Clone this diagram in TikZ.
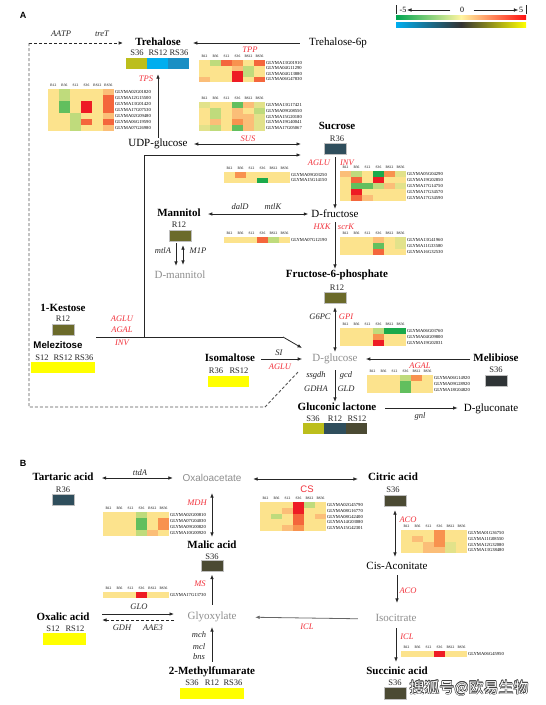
\documentclass[tikz,border=0pt]{standalone}
\usepackage{fontspec}
\setmainfont{Liberation Serif}
\newfontfamily\arialf{Liberation Sans}
\newfontfamily\cjkf{Noto Sans CJK SC}
\usetikzlibrary{arrows.meta}
\definecolor{hY}{HTML}{FCE38D}
\definecolor{hYG}{HTML}{E2E28A}
\definecolor{hLO}{HTML}{FBBE78}
\definecolor{hO}{HTML}{F8924F}
\definecolor{hOR}{HTML}{F4663C}
\definecolor{hR}{HTML}{EE1C24}
\definecolor{hLG}{HTML}{BFDB7C}
\definecolor{hG}{HTML}{62BF5E}
\definecolor{hDG}{HTML}{1BAA4B}
\definecolor{cOY}{HTML}{BCBE1C}
\definecolor{cLB}{HTML}{00AEEF}
\definecolor{cMB}{HTML}{1A8FC4}
\definecolor{cDT}{HTML}{2F4E5C}
\definecolor{cOL}{HTML}{6B6A2A}
\definecolor{cDO}{HTML}{4B4A33}
\definecolor{cYe}{HTML}{FFFF00}
\definecolor{cDK}{HTML}{2F3436}
\definecolor{enzred}{HTML}{F2303A}
\definecolor{gtx}{HTML}{8E8E8E}
\definecolor{lc}{HTML}{262626}
\definecolor{dc}{HTML}{555555}
\definecolor{lgG}{HTML}{00A651}
\definecolor{lgY}{HTML}{FFF5A0}
\definecolor{lgR}{HTML}{FF1010}

\newcommand{\hmap}[5]{%
  \foreach \lab [count=\k] in {R12,R36,S12,S36,RS12,RS36}
    \node[hd] (#1h\k) at ({#2+(\k-0.5)*11},{#3-3.3}) {\lab};
  \foreach \qa/\qb/\qc/\qd/\qe/\qf/\gn [count=\r] in {#5} {
    \foreach \qq [count=\k] in {\qa,\qb,\qc,\qd,\qe,\qf}
      \fill[fill=\qq] ({#2+(\k-1)*11},{#3+(\r-1)*#4}) rectangle ++(11.15,{#4+0.15});
    \node[gene] (#1g\r) at ({#2+66.8},{#3+(\r-0.5)*#4}) {\gn};
  }%
}

\begin{document}
\begin{tikzpicture}[x=1pt,y=-1pt,
  txt/.style={inner sep=1pt, font=\fontsize{11}{12}\selectfont, text height=7.5pt, text depth=2.2pt},
  met/.style={txt, font=\bfseries\fontsize{11}{12}\selectfont},
  gmet/.style={txt, text=gtx},
  gsans/.style={txt, text=gtx, font=\arialf\fontsize{10}{12}\selectfont},
  smp/.style={inner sep=0.5pt, font=\fontsize{8.5}{9}\selectfont, text height=6pt, text depth=0pt, text=black!85},
  enz/.style={inner sep=0.5pt, font=\itshape\fontsize{8.5}{9}\selectfont, text=black!85},
  renz/.style={enz, text=enzred},
  hd/.style={inner sep=0, font=\fontsize{3.6}{4}\selectfont},
  gene/.style={inner sep=0, anchor=west, font=\fontsize{4.6}{5}\selectfont},
  ln/.style={draw=lc, line width=0.8pt},
  arr/.style={ln, -{Latex[length=4.5pt,width=3.6pt]}},
  darr/.style={ln, {Latex[length=4.5pt,width=3.6pt]}-{Latex[length=4.5pt,width=3.6pt]}},
  dsh/.style={draw=dc, line width=0.9pt, dash pattern=on 3pt off 2pt},
  box/.style={inner sep=0, minimum width=22pt, minimum height=11pt, draw=white!75!black, line width=0.3pt},
  lbl/.style={inner sep=0, font=\arialf\bfseries\fontsize{9}{10}\selectfont}
]
\useasboundingbox[fill=white] (0,0) rectangle (546,705);

% ---------- panel labels ----------
\node[lbl] (labA) at (23,15) {A};
\node[lbl] (labB) at (23,463) {B};

% ---------- legend ----------
\draw[lc, line width=0.6pt] (396,5) -- (396,14) (526,5) -- (526,14);
\node[inner sep=0.5pt, font=\fontsize{8}{9}\selectfont] (lgm) at (403,10) {-5};
\node[inner sep=0.5pt, font=\fontsize{8}{9}\selectfont] (lg0) at (462,10) {0};
\node[inner sep=0.5pt, font=\fontsize{8}{9}\selectfont] (lgp) at (521,10) {5};
\draw[arr, line width=0.6pt, shorten <=9pt] (lg0.west) -- (lgm.east);
\draw[arr, line width=0.6pt, shorten <=9pt] (lg0.east) -- (lgp.west);
\shade[left color=lgG, right color=lgR, middle color=lgY] (396,15.5) rectangle (526,19.5);
\shade[left color=cLB, right color=cYe, middle color=black!80] (396,22) rectangle (526,27);

% ---------- Trehalose ----------
\node[met] (treh) at (158,43) {Trehalose};
\node[smp] (trehs1) at (137,52) {S36};
\node[smp] (trehs2) at (158,52) {RS12};
\node[smp] (trehs3) at (179,52) {RS36};
\fill[cOY] (126,58) rectangle (147,69);
\fill[cLB] (147,58) rectangle (168,69);
\fill[cMB] (168,58) rectangle (189,69);
\node[box, minimum width=63pt, draw=none] (trehB) at (157.5,63.5) {};
\node[txt] (t6p) at (338,43) {Trehalose-6p};
\draw[arr, shorten <=8pt, shorten >=11pt] (t6p.west) -- (treh.east);

\coordinate (dA) at (29,43);
\coordinate (dB) at (265,407);
\coordinate (dC) at (299,371);
\draw[dsh, draw=lc, -{Latex[length=4.5pt,width=3.6pt]}, shorten >=11pt] (dA) -- (treh.west);
\draw[dsh] (dA) -- (dA |- dB) -- (dB) -- (dC);
\node[enz] (aatp) at (61,34) {AATP};
\node[enz] (tret) at (102,34) {treT};

\node[renz] (tpp) at (250,50) {TPP};
\hmap{tpp}{199}{60}{5.5}{hY/hLG/hOR/hO/hY/hOR/GLYMA13G01910,
 hY/hY/hY/hLO/hLG/hY/GLYMA04G11290,
 hY/hY/hY/hR/hLG/hY/GLYMA04G13880,
 hLO/hY/hY/hR/hY/hOR/GLYMA06G47830}
\hmap{sus}{199}{102}{5.8}{hYG/hY/hY/hG/hLO/hYG/GLYMA13G17421,
 hY/hLG/hY/hLO/hY/hLG/GLYMA09G08550,
 hY/hLG/hY/hLO/hLO/hYG/GLYMA15G20180,
 hY/hLO/hY/hO/hLO/hYG/GLYMA19G40041,
 hYG/hLG/hY/hG/hLO/hYG/GLYMA17G05067}
\node[renz] (sus) at (248,139) {SUS};

\node[renz] (tps) at (146,79) {TPS};
\hmap{tps}{48}{89}{6}{hY/hLG/hY/hY/hY/hLO/GLYMA02G01820,
 hY/hLG/hY/hY/hY/hOR/GLYMA12G15500,
 hY/hG/hY/hR/hY/hOR/GLYMA13G01420,
 hY/hG/hY/hR/hY/hOR/GLYMA17G07530,
 hY/hY/hLG/hY/hY/hLO/GLYMA02G09480,
 hY/hY/hLG/hOR/hY/hOR/GLYMA06G19590,
 hY/hY/hLG/hY/hY/hLO/GLYMA07G26980}

% ---------- UDP-glucose / Sucrose ----------
\node[txt] (udp) at (158,144) {UDP-glucose};
\draw[arr, shorten >=5pt] (udp.north) -- (udp.north |- trehB.south);
\node[met] (sucr) at (337,127) {Sucrose};
\node[smp] (sucrs) at (337,138) {R36};
\node[box, fill=cDT] (sucrB) at (335,148.5) {};
\coordinate (sucIn1) at (301,144);
\coordinate (sucIn2) at (301,155);
\draw[darr, shorten <=5pt] (udp.east) -- (sucIn1);

\coordinate (hub) at (96,337);
\coordinate (hubUp) at (144,337);
\coordinate (hubR) at (283,337);
\coordinate (glcIn) at (302,348);
\draw[ln] (hub) -- (hubR);
\draw[arr] (hubR) -- (glcIn);
\draw[arr] (hubUp) -- (hubUp |- sucIn2) -- (sucIn2);

\node[renz] (aglu1) at (319,163) {AGLU};
\node[renz] (inv1) at (347,163) {INV};
\hmap{aglu}{224}{172}{5.5}{hY/hO/hY/hY/hY/hY/GLYMA09G03250,
 hY/hY/hY/hDG/hY/hY/GLYMA15G14150}
\hmap{inv}{340}{171}{6}{hLO/hLG/hY/hDG/hO/hYG/GLYMA05G04290,
 hY/hOR/hY/hR/hY/hY/GLYMA19G02850,
 hY/hG/hG/hLG/hLO/hYG/GLYMA17G14750,
 hY/hR/hY/hY/hY/hY/GLYMA17G34570,
 hY/hOR/hLO/hY/hY/hY/GLYMA17G34590}

% ---------- D-fructose / Mannitol ----------
\node[txt] (fru) at (335,215) {D-fructose};
\draw[arr, shorten <=3pt] (sucrB.south) -- (fru.north);
\node[met] (man) at (179,214) {Mannitol};
\node[smp] (mans) at (179,224) {R12};
\node[box, fill=cOL] (manB) at (180,235.5) {};
\draw[darr, shorten <=6pt, shorten >=2pt] (man.east) -- (man.east -| fru.west);
\node[enz] (dald) at (240,207) {dalD};
\node[enz] (mtlk) at (273,207) {mtlK};
\node[gmet] (dman) at (180,276) {D-mannitol};
\draw[arr, shorten <=2pt, shorten >=4pt] ([xshift=-4pt]manB.south) -- ([xshift=-4pt]manB.south |- dman.north);
\draw[darr, shorten <=4pt, shorten >=5pt] ([xshift=3pt]manB.south) -- ([xshift=3pt]manB.south |- dman.north);
\node[enz] (mtla) at (163,251) {mtlA};
\node[enz] (m1p) at (198,251) {M1P};

\node[renz] (hxk) at (322,227) {HXK};
\node[renz] (scrk) at (346,227) {scrK};
\hmap{hxk}{224}{237}{6}{hY/hY/hY/hOR/hLG/hY/GLYMA07G12190}
\hmap{scrk}{340}{237}{5.8}{hY/hY/hY/hLO/hY/hYG/GLYMA13G41960,
 hY/hY/hY/hG/hY/hYG/GLYMA11G33580,
 hY/hY/hY/hOR/hY/hY/GLYMA16G32530}

% ---------- Fructose-6-phosphate ----------
\node[met] (f6p) at (337,275) {Fructose-6-phosphate};
\node[smp] (f6ps) at (337,287) {R12};
\node[box, fill=cOL] (f6pB) at (335,297.5) {};
\draw[arr, shorten <=1pt] (fru.south) -- (fru.south |- f6p.north);
\node[enz] (g6pc) at (320,317) {G6PC};
\node[renz] (gpi) at (346,317) {GPI};
\hmap{gpi}{340}{328}{5.8}{hY/hY/hY/hLG/hDG/hDG/GLYMA06G03760,
 hY/hY/hY/hO/hY/hY/GLYMA04G09800,
 hY/hY/hY/hR/hY/hY/GLYMA19G02031}

% ---------- D-glucose ----------
\node[gmet] (glc) at (335,359) {D-glucose};
\draw[darr, shorten <=4pt, shorten >=1pt] (f6pB.south) -- (glc.north);
\node[met] (mel) at (496,359) {Melibiose};
\node[smp] (mels) at (496,369) {S36};
\node[box, fill=cDK] (melB) at (496,381) {};
\draw[arr, shorten <=2pt, shorten >=7pt] (mel.west) -- (glc.east);
\node[renz] (agal) at (420,366) {AGAL};
\hmap{agal}{367}{375}{6}{hY/hY/hY/hLG/hO/hY/GLYMA06G14920,
 hY/hY/hY/hG/hY/hY/GLYMA09G28920,
 hY/hY/hY/hG/hY/hY/GLYMA18G04820}

\node[met] (isom) at (230,359) {Isomaltose};
\node[smp] (isoms1) at (216,370) {R36};
\node[smp] (isoms2) at (239,370) {RS12};
\node[box, fill=cYe, minimum width=41pt, draw=none] (isomB) at (228.5,381.5) {};
\draw[arr, shorten <=5pt, shorten >=9pt] (isom.east) -- (glc.west);
\node[enz] (si) at (279,353) {SI};
\node[renz] (aglu3) at (280,367) {AGLU};

% ---------- 1-Kestose / Melezitose ----------
\node[met] (kes) at (63,309) {1-Kestose};
\node[smp] (kess) at (63,318) {R12};
\node[box, fill=cOL] (kesB) at (63.5,329.5) {};
\node[met, font=\arialf\bfseries\fontsize{9.7}{11}\selectfont] (mlz) at (58,346) {Melezitose};
\node[smp] (mlzs1) at (42,357) {S12};
\node[smp] (mlzs2) at (63,357) {RS12};
\node[smp] (mlzs3) at (84,357) {RS36};
\node[box, fill=cYe, minimum width=64pt, draw=none] (mlzB) at (63,367.5) {};
\node[renz] (aglu2) at (122,319) {AGLU};
\node[renz] (agal2) at (122,330) {AGAL};
\node[renz] (inv2) at (122,343) {INV};

% ---------- Gluconic lactone ----------
\node[met] (glac) at (337,408) {Gluconic lactone};
\node[smp] (glacs1) at (313,418) {S36};
\node[smp] (glacs2) at (335,418) {R12};
\node[smp] (glacs3) at (357,418) {RS12};
\fill[cOY] (303,423) rectangle (324,434);
\fill[cDT] (324,423) rectangle (346,434);
\fill[cDO] (346,423) rectangle (367,434);
\node[box, minimum width=64pt, draw=none] (glacB) at (335,428.5) {};
\draw[arr, shorten <=5pt] (glc.south) -- (glc.south |- glac.north);
\node[enz] (ssgdh) at (316,375) {ssgdh};
\node[enz] (gcd) at (346,375) {gcd};
\node[enz] (gdha) at (316,389) {GDHA};
\node[enz] (gld) at (346,389) {GLD};
\node[txt] (dgl) at (491,409) {D-gluconate};
\draw[arr, shorten <=8pt, shorten >=5pt] (glac.east) -- (glac.east -| dgl.west);
\node[enz] (gnl) at (420,416) {gnl};

% ================= Panel B =================
\node[met] (tart) at (63,478) {Tartaric acid};
\node[smp] (tarts) at (63,489) {R36};
\node[box, fill=cDT] (tartB) at (63.5,500) {};
\node[gsans] (oxa) at (212,479) {Oxaloacetate};
\draw[darr, shorten <=7pt, shorten >=8.5pt] (tart.east) -- (tart.east -| oxa.west);
\node[enz] (ttda) at (140,473) {ttdA};
\node[met] (cit) at (393,478) {Citric acid};
\node[smp] (cits) at (393,489) {S36};
\node[box, fill=cDO] (citB) at (395,500.5) {};
\draw[darr, shorten <=10.5pt, shorten >=9pt] (oxa.east) -- (oxa.east -| cit.west);
\node[inner sep=0.5pt, font=\arialf\fontsize{9.5}{10}\selectfont, text=enzred] (cs) at (307,489) {CS};
\hmap{cs}{260}{502}{5.8}{hY/hY/hY/hR/hLG/hY/GLYMA02G45790,
 hY/hY/hLO/hR/hY/hY/GLYMA08G16770,
 hY/hLG/hY/hOR/hY/hLO/GLYMA08G42400,
 hY/hY/hY/hOR/hY/hY/GLYMA14G03080,
 hY/hY/hLO/hO/hY/hY/GLYMA15G42301}

\node[met] (mal) at (212,546) {Malic acid};
\node[smp] (mals) at (212,556) {S36};
\node[box, fill=cDO] (malB) at (212.5,566) {};
\draw[darr, shorten <=8pt, shorten >=3pt] (oxa.south) -- (oxa.south |- mal.north);
\node[renz] (mdh) at (197,503) {MDH};
\hmap{mdh}{103}{512}{6}{hY/hY/hY/hLG/hY/hY/GLYMA02G00810,
 hY/hY/hY/hG/hY/hO/GLYMA07G04030,
 hY/hY/hY/hG/hY/hO/GLYMA09G00820,
 hY/hY/hY/hLG/hLO/hY/GLYMA10G00920}

\node[gmet] (glyo) at (212,617) {Glyoxylate};
\draw[arr, shorten <=6pt, shorten >=3pt] (glyo.north) -- (glyo.north |- malB.south);
\node[renz] (ms) at (200,584) {MS};
\hmap{ms}{103}{592}{5.5}{hY/hY/hY/hR/hY/hY/GLYMA17G13730}

\node[met] (oxal) at (63,618) {Oxalic acid};
\node[smp] (oxals1) at (53,628) {S12};
\node[smp] (oxals2) at (75,628) {RS12};
\node[box, fill=cYe, minimum width=43pt, minimum height=12pt, draw=none] (oxalB) at (64.5,639) {};
\coordinate (gloA) at (102,614);
\coordinate (gloB) at (174,614);
\coordinate (gdhA) at (174,620);
\coordinate (gdhB) at (102,620);
\draw[arr] (gloA) -- (gloB);
\draw[dsh, draw=lc, -{Latex[length=4.5pt,width=3.6pt]}] (gdhA) -- (gdhB);
\node[enz] (glo) at (139,607) {GLO};
\node[enz] (gdh) at (122,628) {GDH};
\node[enz] (aae3) at (153,628) {AAE3};

\node[met] (mef) at (212,672) {2-Methylfumarate};
\node[smp] (mefs1) at (192,682) {S36};
\node[smp] (mefs2) at (212,682) {R12};
\node[smp] (mefs3) at (233,682) {RS36};
\node[box, fill=cYe, minimum width=64pt, draw=none] (mefB) at (212,693.5) {};
\draw[arr, shorten <=4pt, shorten >=4pt] (mef.north) -- (mef.north |- glyo.south);
\node[enz] (mch) at (199,635) {mch};
\node[enz] (mcl) at (199,647) {mcl};
\node[enz] (bns) at (199,657) {bns};

\node[txt] (cis) at (397,567) {Cis-Aconitate};
\draw[darr, shorten <=4pt, shorten >=4pt] (citB.south) -- (citB.south |- cis.north);
\node[renz] (aco1) at (408,520) {ACO};
\hmap{aco}{401}{530}{5.8}{hY/hY/hY/hO/hY/hY/GLYMA01G36750,
 hY/hLO/hY/hO/hY/hY/GLYMA11G08550,
 hY/hY/hLO/hO/hYG/hY/GLYMA12G32080,
 hY/hY/hLO/hLO/hYG/hY/GLYMA13G38480}

\node[gmet] (iso) at (396,619) {Isocitrate};
\draw[arr, shorten <=2pt, shorten >=10pt] (cis.south) -- (cis.south |- iso.north);
\node[renz] (aco2) at (408,591) {ACO};
\draw[arr, draw=black!60, shorten <=16.5pt, shorten >=17.5pt] (iso.west) -- (glyo.east);
\node[renz] (icl1) at (307,627) {ICL};

\node[met] (suc) at (397,672) {Succinic acid};
\node[smp] (sucs) at (395,682) {S36};
\node[box, fill=cDO, minimum height=12pt] (sucB) at (395,693) {};
\draw[arr, shorten <=3pt, shorten >=4pt] (iso.south) -- (iso.south |- suc.north);
\node[renz] (icl2) at (407,637) {ICL};
\hmap{icl}{401}{651}{6}{hY/hY/hY/hR/hY/hY/GLYMA06G45950}

% ---------- watermark ----------
\foreach \dx/\dy [count=\i] in {-0.5/0,0.5/0,0/-0.5,0/0.5,-0.35/-0.35,0.35/0.35,-0.35/0.35,0.35/-0.35}
  \node[inner sep=0, font=\cjkf\fontsize{15}{16}\selectfont, text=black!75] (wmo\i) at (469+\dx,688+\dy) {搜狐号@欧易生物};
\node[inner sep=0, font=\cjkf\fontsize{15}{16}\selectfont, text=white] (wm) at (469,688) {搜狐号@欧易生物};
\end{tikzpicture}
\end{document}
